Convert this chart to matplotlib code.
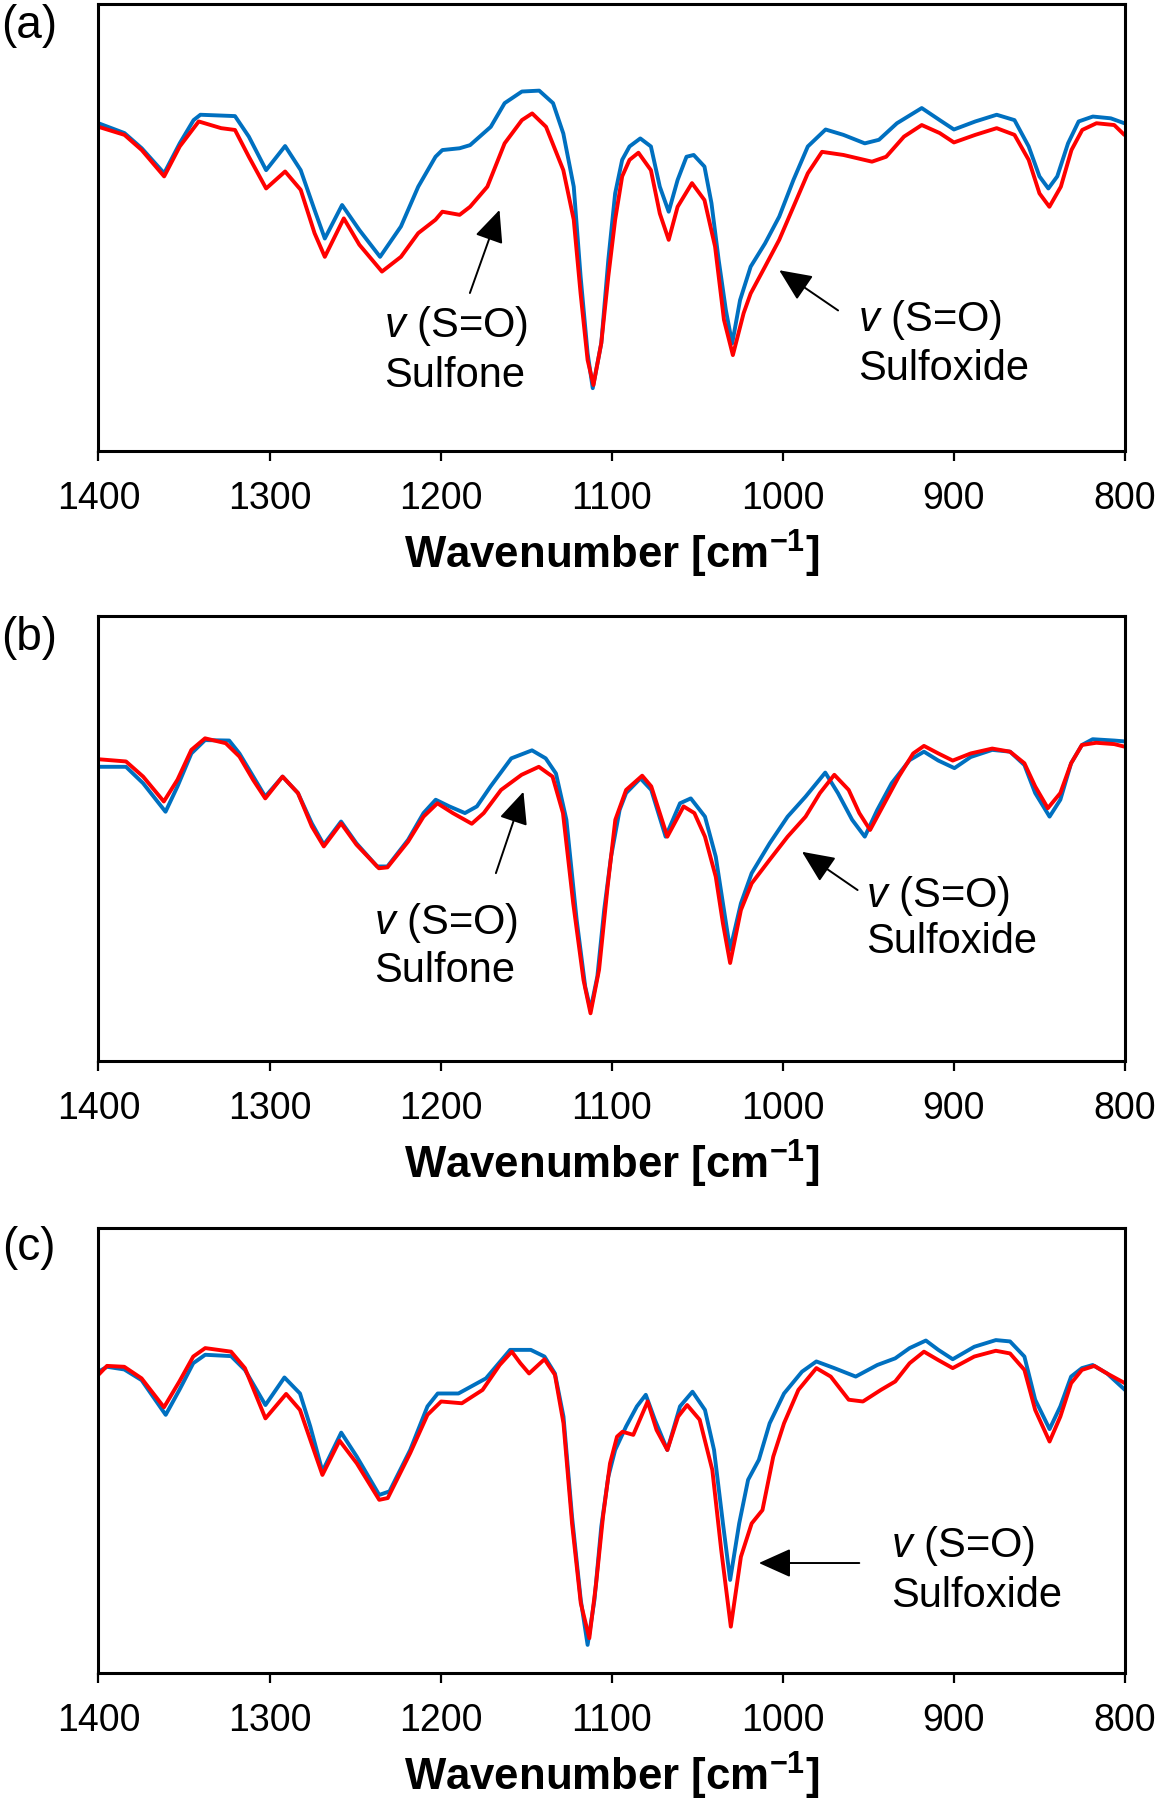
import matplotlib
matplotlib.use('Agg')
import matplotlib.pyplot as plt

plt.rcParams['font.family'] = ['Liberation Sans', 'DejaVu Sans']
plt.rcParams['mathtext.fontset'] = 'custom'
plt.rcParams['mathtext.rm'] = 'Liberation Sans'
plt.rcParams['mathtext.it'] = 'Liberation Sans:italic'
plt.rcParams['mathtext.bf'] = 'Liberation Sans:bold'

BLUE = '#0070C0'
RED = '#FF0000'

# ---- panel (a) ----
wn_a_blue = [1400, 1384.8, 1374.7, 1361.6, 1352.5, 1344.4, 1340.4, 1320.2, 1312.1, 1302.0,
             1290.9, 1281.8, 1273.7, 1267.7, 1257.6, 1247.5, 1235.4, 1223.2, 1213.1, 1203.0,
             1199.0, 1188.9, 1182.8, 1170.7, 1162.6, 1152.5, 1142.4, 1134.3, 1128.3, 1122.2,
             1118.2, 1114.1, 1111.1, 1106.1, 1102.0, 1098.0, 1093.9, 1089.6, 1083.3, 1077.1,
             1071.9, 1066.7, 1061.5, 1056.3, 1052.1, 1045.8, 1041.7, 1037.5, 1033.3, 1029.6,
             1025.0, 1018.8, 1010.4, 1002.1, 993.8, 985.4, 975.0, 964.6, 952.1, 943.8,
             933.3, 918.8, 908.3, 900.0, 887.5, 875.0, 864.6, 856.3, 850.0, 844.8,
             839.6, 833.3, 827.1, 818.8, 808.3, 800.4]
t_a_blue = [0.733, 0.711, 0.677, 0.621, 0.688, 0.740, 0.752, 0.749, 0.703, 0.628,
            0.682, 0.628, 0.539, 0.475, 0.550, 0.494, 0.434, 0.502, 0.591, 0.658,
            0.673, 0.677, 0.684, 0.725, 0.778, 0.804, 0.806, 0.778, 0.710, 0.591,
            0.390, 0.218, 0.140, 0.241, 0.427, 0.576, 0.651, 0.681, 0.699, 0.681,
            0.591, 0.535, 0.606, 0.658, 0.662, 0.636, 0.554, 0.427, 0.315, 0.240,
            0.337, 0.412, 0.464, 0.524, 0.606, 0.681, 0.719, 0.707, 0.688, 0.696,
            0.733, 0.767, 0.740, 0.719, 0.737, 0.752, 0.740, 0.681, 0.614, 0.587,
            0.614, 0.688, 0.737, 0.748, 0.744, 0.733]

wn_a_red = [1400, 1384.8, 1374.7, 1361.6, 1352.5, 1341.4, 1328.3, 1320.2, 1312.1, 1302.0,
            1290.9, 1281.8, 1273.7, 1267.7, 1256.6, 1247.5, 1234.3, 1223.2, 1213.1, 1203.0,
            1199.0, 1188.9, 1182.8, 1172.7, 1162.6, 1152.5, 1146.5, 1138.4, 1128.3, 1122.2,
            1118.2, 1114.1, 1110.7, 1106.1, 1102.0, 1098.0, 1093.9, 1089.6, 1084.4, 1077.1,
            1071.9, 1066.7, 1061.5, 1053.1, 1045.8, 1039.6, 1034.4, 1029.2, 1022.9, 1018.8,
            1010.4, 1002.1, 993.8, 985.4, 977.1, 964.6, 947.9, 939.6, 929.2, 918.8,
            908.3, 900.0, 887.5, 875.0, 864.6, 856.3, 850.0, 844.2, 837.5, 831.3,
            825.0, 816.7, 806.3, 800.4]
t_a_red = [0.725, 0.707, 0.673, 0.614, 0.681, 0.737, 0.722, 0.718, 0.658, 0.587,
           0.625, 0.584, 0.487, 0.434, 0.520, 0.461, 0.401, 0.434, 0.487, 0.517,
           0.535, 0.528, 0.546, 0.591, 0.688, 0.740, 0.755, 0.725, 0.628, 0.517,
           0.352, 0.203, 0.147, 0.241, 0.390, 0.517, 0.614, 0.651, 0.667, 0.628,
           0.531, 0.472, 0.546, 0.599, 0.561, 0.457, 0.293, 0.214, 0.308, 0.352,
           0.412, 0.472, 0.546, 0.621, 0.669, 0.662, 0.647, 0.658, 0.703, 0.729,
           0.711, 0.690, 0.707, 0.722, 0.707, 0.651, 0.576, 0.546, 0.591, 0.673,
           0.718, 0.733, 0.729, 0.707]

# ---- panel (b) ----
wn_b_blue = [1400, 1383.9, 1373.9, 1360.8, 1353.8, 1345.7, 1337.7, 1323.6, 1317.6, 1309.5,
             1302.5, 1292.4, 1283.4, 1275.3, 1268.3, 1258.2, 1249.2, 1237.1, 1231.1, 1219.0,
             1210.0, 1202.9, 1194.9, 1185.8, 1178.8, 1170.8, 1158.7, 1146.6, 1138.6, 1132.6,
             1126.5, 1120.5, 1115.5, 1112.4, 1108.4, 1104.4, 1100.4, 1095.4, 1091.6, 1083.2,
             1076.9, 1068.5, 1060.1, 1053.8, 1045.5, 1039.2, 1035.0, 1030.8, 1024.5, 1018.2,
             1007.7, 997.2, 986.7, 975.2, 967.8, 959.5, 952.1, 944.8, 936.4, 925.9,
             917.5, 909.1, 899.7, 890.2, 877.6, 867.2, 858.8, 852.5, 844.1, 837.8,
             831.5, 825.2, 818.9, 806.3, 800.0]
t_b_blue = [0.661, 0.661, 0.624, 0.560, 0.617, 0.691, 0.721, 0.720, 0.691, 0.639,
            0.594, 0.639, 0.602, 0.534, 0.486, 0.538, 0.489, 0.437, 0.437, 0.497,
            0.557, 0.587, 0.572, 0.557, 0.572, 0.617, 0.680, 0.698, 0.680, 0.646,
            0.542, 0.317, 0.167, 0.115, 0.190, 0.340, 0.459, 0.564, 0.602, 0.635,
            0.609, 0.504, 0.579, 0.590, 0.549, 0.459, 0.354, 0.250, 0.354, 0.422,
            0.489, 0.549, 0.594, 0.648, 0.602, 0.542, 0.504, 0.564, 0.624, 0.676,
            0.695, 0.675, 0.658, 0.683, 0.699, 0.695, 0.665, 0.602, 0.549, 0.587,
            0.669, 0.710, 0.723, 0.720, 0.718]

wn_b_red = [1400, 1383.9, 1373.9, 1361.8, 1353.8, 1345.7, 1337.7, 1325.6, 1317.6, 1309.5,
            1302.5, 1292.4, 1283.4, 1275.3, 1268.3, 1258.2, 1249.2, 1236.1, 1231.1, 1219.0,
            1210.0, 1201.9, 1192.9, 1181.8, 1174.8, 1164.7, 1152.7, 1142.6, 1134.6, 1128.5,
            1122.5, 1116.5, 1112.4, 1107.4, 1102.4, 1097.9, 1091.6, 1082.2, 1076.9, 1067.5,
            1058.0, 1051.7, 1045.5, 1039.2, 1035.0, 1030.8, 1024.5, 1018.2, 1007.7, 997.2,
            986.7, 978.3, 969.9, 961.5, 955.3, 949.0, 940.6, 932.2, 923.8, 917.5,
            909.1, 900.7, 890.2, 877.6, 867.2, 858.8, 852.5, 845.1, 837.8, 831.5,
            825.2, 816.8, 806.3, 800.0]
t_b_red = [0.678, 0.673, 0.639, 0.583, 0.632, 0.699, 0.725, 0.714, 0.684, 0.631,
           0.590, 0.639, 0.602, 0.527, 0.482, 0.534, 0.486, 0.433, 0.435, 0.493,
           0.549, 0.579, 0.557, 0.533, 0.557, 0.609, 0.643, 0.661, 0.639, 0.557,
           0.354, 0.182, 0.107, 0.205, 0.392, 0.542, 0.609, 0.641, 0.617, 0.504,
           0.572, 0.557, 0.504, 0.414, 0.309, 0.220, 0.339, 0.399, 0.452, 0.504,
           0.549, 0.602, 0.643, 0.609, 0.557, 0.519, 0.579, 0.639, 0.691, 0.708,
           0.691, 0.675, 0.691, 0.702, 0.695, 0.669, 0.617, 0.568, 0.602, 0.669,
           0.710, 0.715, 0.712, 0.706]

# ---- panel (c) ----
wn_c_blue = [1400, 1395.0, 1384.9, 1374.8, 1360.7, 1352.7, 1344.6, 1337.6, 1322.5, 1314.4,
             1302.4, 1291.3, 1282.2, 1276.2, 1269.1, 1258.1, 1249.0, 1235.9, 1229.9, 1217.8,
             1207.7, 1201.7, 1189.6, 1173.5, 1159.4, 1147.3, 1139.3, 1133.2, 1128.2, 1123.2,
             1118.1, 1114.1, 1110.1, 1106.1, 1102.0, 1098.0, 1091.6, 1085.3, 1080.1, 1074.8,
             1067.5, 1060.1, 1052.8, 1045.5, 1040.2, 1035.0, 1030.8, 1025.5, 1020.3, 1014.0,
             1007.7, 999.3, 988.8, 980.4, 969.9, 957.4, 944.8, 934.3, 925.9, 916.4,
             909.1, 900.7, 888.1, 875.5, 867.2, 858.8, 852.5, 844.1, 837.8, 831.5,
             825.2, 818.9, 810.5, 800.0]
t_c_blue = [0.677, 0.688, 0.682, 0.658, 0.580, 0.636, 0.696, 0.715, 0.712, 0.681,
            0.602, 0.664, 0.628, 0.554, 0.453, 0.540, 0.486, 0.400, 0.408, 0.501,
            0.599, 0.628, 0.628, 0.662, 0.726, 0.726, 0.711, 0.673, 0.576, 0.351,
            0.164, 0.063, 0.164, 0.329, 0.441, 0.501, 0.554, 0.599, 0.625, 0.569,
            0.501, 0.599, 0.632, 0.591, 0.501, 0.336, 0.209, 0.336, 0.434, 0.479,
            0.561, 0.628, 0.677, 0.700, 0.685, 0.666, 0.692, 0.707, 0.730, 0.747,
            0.726, 0.705, 0.733, 0.748, 0.745, 0.711, 0.614, 0.548, 0.599, 0.666,
            0.685, 0.692, 0.673, 0.636]

wn_c_red = [1400, 1395.0, 1384.9, 1374.8, 1361.7, 1352.7, 1344.6, 1337.6, 1322.5, 1314.4,
            1302.4, 1290.3, 1282.2, 1276.2, 1269.1, 1259.1, 1249.0, 1235.9, 1230.9, 1217.8,
            1207.7, 1199.7, 1187.6, 1175.5, 1165.5, 1158.4, 1153.4, 1148.3, 1139.3, 1133.2,
            1128.2, 1123.2, 1118.1, 1113.1, 1109.1, 1105.1, 1101.0, 1096.9, 1093.7, 1087.4,
            1079.0, 1073.8, 1067.5, 1061.2, 1055.9, 1048.6, 1041.2, 1036.0, 1030.4, 1024.5,
            1018.2, 1011.9, 1005.6, 999.3, 990.9, 980.4, 972.0, 961.5, 953.2, 942.7,
            934.3, 925.9, 917.5, 909.1, 900.7, 888.1, 875.5, 867.2, 858.8, 852.5,
            844.1, 837.8, 831.5, 825.2, 817.9, 810.5, 800.0]
t_c_red = [0.670, 0.690, 0.688, 0.662, 0.597, 0.655, 0.711, 0.730, 0.722, 0.685,
           0.572, 0.627, 0.591, 0.524, 0.445, 0.522, 0.471, 0.389, 0.393, 0.494,
           0.580, 0.610, 0.606, 0.636, 0.692, 0.722, 0.696, 0.673, 0.705, 0.670,
           0.561, 0.336, 0.157, 0.078, 0.202, 0.351, 0.471, 0.531, 0.542, 0.535,
           0.610, 0.546, 0.501, 0.576, 0.602, 0.569, 0.456, 0.276, 0.104, 0.261,
           0.336, 0.366, 0.486, 0.561, 0.636, 0.685, 0.666, 0.614, 0.610, 0.636,
           0.655, 0.696, 0.722, 0.703, 0.685, 0.711, 0.724, 0.718, 0.681, 0.591,
           0.520, 0.576, 0.651, 0.681, 0.690, 0.673, 0.651]

panel_tags = ['(a)', '(b)', '(c)']
xticks = [1400, 1300, 1200, 1100, 1000, 900, 800]
line1 = r'$v$ (S=O)'

# annotations: (label, text x, baseline line1, baseline line2, arrow tip, arrow tail)
notes = [
    [('Sulfone', 1233.3, 0.254, 0.143, (1165.6, 0.539), (1182.9, 0.353)),
     ('Sulfoxide', 956.2, 0.269, 0.158, (1002.1, 0.404), (967.7, 0.314))],
    [('Sulfone', 1239.1, 0.285, 0.178, (1151.6, 0.605), (1167.7, 0.422)),
     ('Sulfoxide', 951.1, 0.345, 0.242, (988.8, 0.470), (956.3, 0.384))],
    [('Sulfoxide', 936.5, 0.260, 0.149, (1014.0, 0.247), (955.3, 0.247))],
]

series = [
    (wn_a_blue, t_a_blue, wn_a_red, t_a_red),
    (wn_b_blue, t_b_blue, wn_b_red, t_b_red),
    (wn_c_blue, t_c_blue, wn_c_red, t_c_red),
]

fig = plt.figure(figsize=(11.61, 18), dpi=100)
ax_bottoms = [0.7496, 0.4106, 0.0706]
ax_heights = [0.2482, 0.2472, 0.2472]
tag_y = [1 - 26 / 1800, 1 - 638 / 1800, 1 - 1248 / 1800]

for i in range(3):
    ax = fig.add_axes([0.0848, ax_bottoms[i], 0.8842, ax_heights[i]])
    wb, tb, wr, tr = series[i]
    ax.plot(wb, tb, color=BLUE, lw=2.8, solid_joinstyle='round', solid_capstyle='round')
    ax.plot(wr, tr, color=RED, lw=2.8, solid_joinstyle='round', solid_capstyle='round')
    ax.set_xlim(1400, 800)
    ax.set_ylim(0, 1)
    ax.set_yticks([])
    ax.set_xticks(xticks)
    ax.tick_params(axis='x', direction='out', length=7.5, width=1.6, pad=14, labelsize=27)
    for s in ax.spines.values():
        s.set_linewidth(2.2)
    ax.set_xlabel(r'Wavenumber [cm$^{\mathbf{-1}}$]', fontsize=31.5, fontweight='bold', labelpad=8)

    for name, tx, b1, b2, tip, tail in notes[i]:
        ax.text(tx, b1, line1, fontsize=30, ha='left', va='baseline')
        ax.text(tx, b2, name, fontsize=30, ha='left', va='baseline')
        ax.annotate('', xy=tip, xytext=tail,
                    arrowprops=dict(arrowstyle='-|>,head_length=1.0,head_width=0.45',
                                    color='black', lw=1.4, mutation_scale=20,
                                    shrinkA=0, shrinkB=0))

    fig.text(0.025, tag_y[i], panel_tags[i], fontsize=33, ha='center', va='center')

fig.savefig('out.png', dpi=100)
